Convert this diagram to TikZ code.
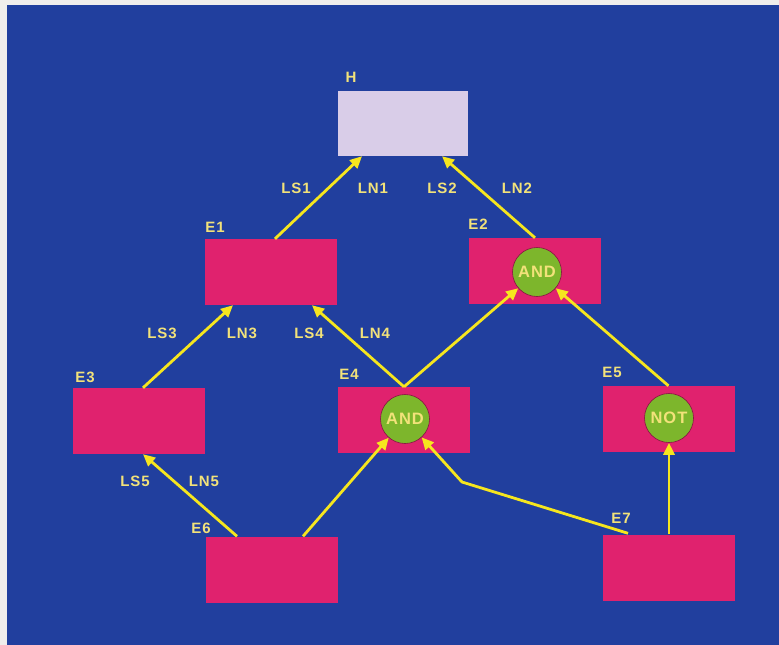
\documentclass[tikz,border=0pt]{standalone}
\usepackage{fontspec}
\setmainfont{Liberation Sans}[LetterSpace=6]
\usetikzlibrary{arrows.meta}
\definecolor{bgblue}{HTML}{213F9E}
\definecolor{boxmag}{HTML}{E0226E}
\definecolor{boxlav}{HTML}{D9CDE8}
\definecolor{gatgreen}{HTML}{7DB62C}
\definecolor{arrowyel}{HTML}{F6E61E}
\definecolor{txtyel}{HTML}{F2E27A}
\definecolor{frame}{HTML}{F0EEEC}
\tikzset{
  x=1pt, y=-1pt,
  box/.style={draw=none, fill=boxmag, minimum width=132pt, minimum height=66pt, inner sep=0pt},
  topbox/.style={box, fill=boxlav, minimum width=130pt, minimum height=65pt},
  gate/.style={circle, fill=gatgreen, draw=boxmag!60!black, line width=0.6pt, minimum size=49pt, inner sep=0pt,
    text=txtyel, font=\fontsize{16.5}{18}\selectfont\bfseries},
  lbl/.style={text=txtyel, font=\fontsize{15}{17}\selectfont\bfseries, inner sep=0pt},
  arr/.style={draw=arrowyel, line width=2.8pt, -{Triangle[length=12pt,width=11pt]}, shorten >=0pt},
}
\begin{document}
\begin{tikzpicture}
\useasboundingbox (0,0) rectangle (779,645);
\fill[frame] (0,0) rectangle (779,645);
\fill[bgblue] (7,5) rectangle (779,645);

% boxes
\node[topbox] (H)  at (403,123.5) {};
\node[box] (E1) at (271,272) {};
\node[box] (E2) at (534.5,271) {};
\node[box] (E3) at (139,421) {};
\node[box] (E4) at (404,420) {};
\node[box] (E5) at (668.5,419) {};
\node[box] (E6) at (272,569.5) {};
\node[box] (E7) at (669,567.5) {};

% gates
\node[gate] (a2) at (537,272) {AND};
\node[gate] (a4) at (405,419) {AND};
\node[gate] (n5) at (669,418) {NOT};

% box labels
\node[lbl] (tH)  at (351,77) {H};
\node[lbl] (t1) at (215,227) {E1};
\node[lbl] (t2) at (478,224) {E2};
\node[lbl] (t3) at (85,377) {E3};
\node[lbl] (t4) at (349,374) {E4};
\node[lbl] (t5) at (612,372) {E5};
\node[lbl] (t6) at (201,528) {E6};
\node[lbl] (t7) at (621,518) {E7};

% link labels
\node[lbl] (ls1) at (296,188) {LS1};
\node[lbl] (ln1) at (373,188) {LN1};
\node[lbl] (ls2) at (442,188) {LS2};
\node[lbl] (ln2) at (517,188) {LN2};
\node[lbl] (ls3) at (162,333) {LS3};
\node[lbl] (ln3) at (242,333) {LN3};
\node[lbl] (ls4) at (309,333) {LS4};
\node[lbl] (ln4) at (375,333) {LN4};
\node[lbl] (ls5) at (135,481) {LS5};
\node[lbl] (ln5) at (204,481) {LN5};

% connectors
\draw[arr] ([xshift=4pt]E1.north) -- ([xshift=-41pt]H.south);
\draw[arr] ([xshift=0.5pt]E2.north) -- ([xshift=39pt]H.south);
\draw[arr] ([xshift=4pt]E3.north) -- ([xshift=-38pt]E1.south);
\draw[arr] (E4.north) -- ([xshift=41pt]E1.south);
\draw[arr] (E4.north) -- (a2);
\draw[arr] (E5.north) -- (a2);
\draw[arr] ([xshift=-35pt]E6.north) -- ([xshift=4pt]E3.south);
\draw[arr] ([xshift=31pt]E6.north) -- (a4);
\coordinate (bend) at (462,482);
\draw[arr] ([xshift=-41pt,yshift=1pt]E7.north) -- (bend) -- (a4);
\draw[arr] (E7.north) -- (n5);
\end{tikzpicture}
\end{document}
